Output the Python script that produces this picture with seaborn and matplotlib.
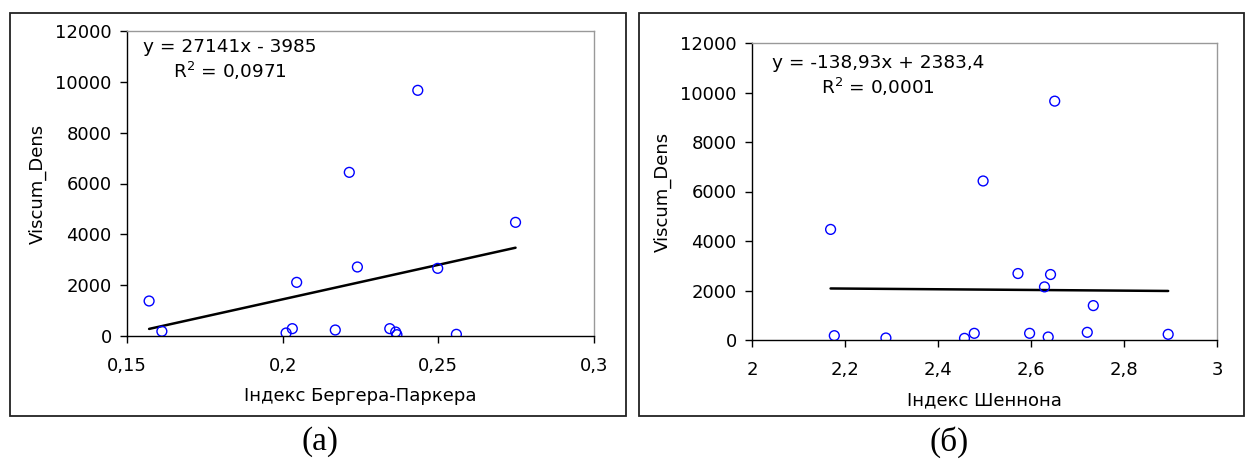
import numpy as np
import matplotlib
matplotlib.use("Agg")
import matplotlib.pyplot as plt
import seaborn as sns
from matplotlib.patches import Rectangle
from matplotlib.ticker import FuncFormatter, MultipleLocator

# Style
sns.set_style("ticks")
plt.rcParams['font.family'] = ['DejaVu Sans']
plt.rcParams['text.color'] = 'black'
plt.rcParams['axes.labelcolor'] = 'black'
plt.rcParams['xtick.color'] = 'black'
plt.rcParams['ytick.color'] = 'black'

# Data
bp_index = [0.1571, 0.1612, 0.2011, 0.2031, 0.2045, 0.2169, 0.2214, 0.2240,
            0.2344, 0.2363, 0.2367, 0.2434, 0.2498, 0.2558, 0.2748]
bp_dens = [1377, 184, 118, 289, 2111, 236, 6439, 2715,
           289, 157, 52, 9666, 2662, 66, 4472]

sh_index = [2.169, 2.177, 2.288, 2.457, 2.478, 2.497, 2.572, 2.597,
            2.629, 2.637, 2.642, 2.651, 2.721, 2.734, 2.895]
sh_dens = [4468, 175, 81, 67, 270, 6425, 2686, 270,
           2146, 121, 2646, 9651, 310, 1390, 229]

# trendline coefficients (slope, intercept) and labels from the chart
bp_trend = (27141, -3985)
sh_trend = (-138.93, 2383.4)
bp_eq = "y = 27141x - 3985\nR$^{2}$ = 0,0971"
sh_eq = "y = -138,93x + 2383,4\nR$^{2}$ = 0,0001"

x_labels = ["Індекс Бергера-Паркера", "Індекс Шеннона"]
captions = ["(а)", "(б)"]

fig = plt.figure(figsize=(12.45, 4.62), dpi=100)

# chart-area frames
for x0, w in [(10 / 1245, 616 / 1245), (639 / 1245, 605 / 1245)]:
    fig.add_artist(Rectangle((x0, 1 - 416 / 462), w, 403 / 462, transform=fig.transFigure,
                             fill=False, edgecolor='#222222', linewidth=1.3))

ax1 = fig.add_axes([127 / 1245, 1 - 336 / 462, 467 / 1245, 305 / 462])
ax2 = fig.add_axes([752 / 1245, 1 - 340 / 462, 465 / 1245, 297 / 462])

comma = FuncFormatter(lambda v, _: '{:g}'.format(round(v, 4)).replace('.', ','))

panels = [
    (ax1, bp_index, bp_dens, bp_trend, bp_eq, (0.15, 0.3), 0.05, (0.183, 10860), x_labels[0]),
    (ax2, sh_index, sh_dens, sh_trend, sh_eq, (2, 3), 0.2, (2.271, 10667), x_labels[1]),
]

for ax, xs, ys, (k, b), eq, xlim, step, eq_pos, xlabel in panels:
    sns.scatterplot(x=xs, y=ys, ax=ax, s=50, marker='o', linewidth=1.0, zorder=3)
    pts = ax.collections[0]
    pts.set_facecolor('none')
    pts.set_edgecolor('#0000ff')

    x_line = np.array([min(xs), max(xs)])
    sns.lineplot(x=x_line, y=k * x_line + b, ax=ax, color='black', linewidth=1.8, zorder=2)

    ax.set_xlim(*xlim)
    ax.set_ylim(0, 12000)
    ax.xaxis.set_major_locator(MultipleLocator(step))
    ax.yaxis.set_major_locator(MultipleLocator(2000))
    ax.xaxis.set_major_formatter(comma)

    for side in ['top', 'right']:
        ax.spines[side].set_color('#999999')
        ax.spines[side].set_linewidth(1.0)
    for side in ['left', 'bottom']:
        ax.spines[side].set_color('black')
        ax.spines[side].set_linewidth(1.0)

    ax.tick_params(axis='both', direction='out', length=5, width=1, color='black',
                   labelsize=13, pad=6)
    ax.tick_params(axis='x', pad=10)
    ax.set_xlabel(xlabel, fontsize=13, labelpad=9)
    ax.set_ylabel("Viscum_Dens", fontsize=13, labelpad=6)

    ax.text(eq_pos[0], eq_pos[1], eq, fontsize=13.3, ha='center', va='center',
            multialignment='center', linespacing=1.25, color='black')

# captions under each panel
fig.text(320 / 1245, 1 - 442 / 462, captions[0], fontsize=24, ha='center', va='center',
         family=['Liberation Serif', 'DejaVu Serif'])
fig.text(949 / 1245, 1 - 442 / 462, captions[1], fontsize=24, ha='center', va='center',
         family=['Liberation Serif', 'DejaVu Serif'])

fig.savefig("out.png", dpi=100)
